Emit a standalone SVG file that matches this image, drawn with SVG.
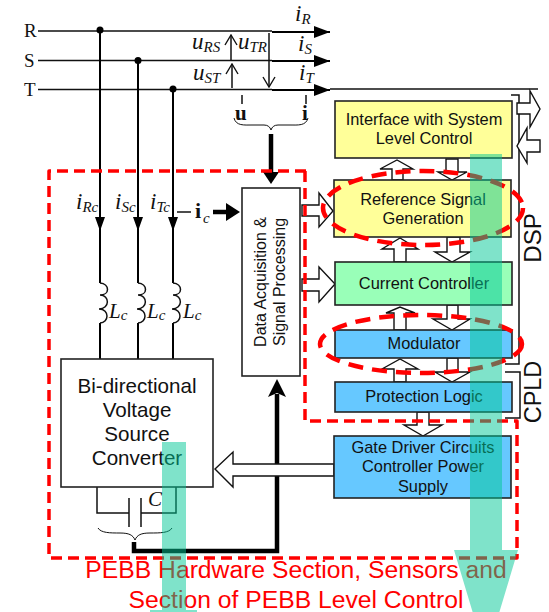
<svg xmlns="http://www.w3.org/2000/svg" width="549" height="612" viewBox="0 0 549 612">
<style>
.ln{fill:none;stroke:#111;stroke-width:1.5}
.th{fill:none;stroke:#000;stroke-width:2}
.hv{fill:none;stroke:#000;stroke-width:4.5}
.box{stroke:#222;stroke-width:1.6}
.ba{fill:#fff;stroke:#111;stroke-width:1.4;stroke-linejoin:miter}
.sans{font-family:"Liberation Sans",Arial,sans-serif;fill:#111;text-anchor:middle}
.t{font-size:16.400px}
.b{font-size:20.600px}
.m{font-family:"Liberation Serif","Times New Roman",serif;fill:#111}
.i{font-style:italic}
.red{fill:none;stroke:#f00;stroke-width:3.500;stroke-dasharray:11 6;stroke-linejoin:round}
.red2{fill:none;stroke:#f00;stroke-width:4.500;stroke-dasharray:15 9}
.ov{fill:#00c896;fill-opacity:.5}
</style>
<defs>
<marker id="tri" markerUnits="userSpaceOnUse" markerWidth="16" markerHeight="12" refX="16" refY="6" orient="auto"><path d="M0 0L16 6L0 12z" fill="#000"/></marker>
<marker id="open" markerUnits="userSpaceOnUse" markerWidth="12" markerHeight="14" refX="11" refY="7" orient="auto"><path d="M1 1L11 7L1 13" fill="none" stroke="#111" stroke-width="1.4"/></marker>
</defs>
<g id="connectors">
<path class="ln" d="M38 31H272M38 60.500H272M38 89.500H272"/>
<path class="th" d="M272 32H330" marker-end="url(#tri)"/>
<path class="th" d="M272 61H330" marker-end="url(#tri)"/>
<path class="th" d="M272 90H330" marker-end="url(#tri)"/>
<path class="ln" d="M330 89H538"/>
<circle cx="100" cy="30" r="3.500"/><circle cx="138" cy="60.500" r="3.500"/><circle cx="173" cy="89" r="3.500"/>
<path class="th" d="M100 30V283M138 60V283M173 89V283M100 323V359M138 323V359M173 323V359"/>
<path d="M95 217H105L100 231zM133 217H143L138 231zM168 217H178L173 231z"/>
<path class="ln" d="M100 283c10 1 10 12 0 12c10 0 10 14 -1 14c11 0 10 14 1 14"/>
<path class="ln" d="M138 283c10 1 10 12 0 12c10 0 10 14 -1 14c11 0 10 14 1 14"/>
<path class="ln" d="M173 283c10 1 10 12 0 12c10 0 10 14 -1 14c11 0 10 14 1 14"/>
<path class="ln" d="M231 60V35" marker-end="url(#open)"/>
<path class="ln" d="M232 88V64" marker-end="url(#open)"/>
<path class="ln" d="M269 33V87" marker-end="url(#open)"/>
<path class="ln" d="M242 95V104M306 95V104"/>
<path d="M234 118c2 8 10 7 18 7h12c4 0 6 2 7 5c1-3 3-5 7-5h12c8 0 16 1 18-7" fill="none" stroke="#111" stroke-width="1"/>
<path class="hv" d="M271 134V175"/><path d="M263 172H279L271 184z"/>
<path class="hv" d="M213 212H230"/><path d="M226 203L240 212L226 221z"/>
<path class="ln" d="M177 212H191"/>
<path class="ln" d="M97 487V513H129M129 498V527M141 498V527M141 513H176V487"/>
<path d="M98 528c3 5 12 5 22 5c9 0 13 2 15 7c2-5 6-7 15-7c10 0 19 0 22-5" fill="none" stroke="#111" stroke-width="1"/>
<path class="hv" d="M134 542V551H277V394"/><path d="M268 397L277 379L286 397L277 393z"/>
<path class="ln" d="M511 95H519V364H505M505 372H520V418H505"/>
<path class="ba" d="M517 103H530V91L540 109L530 127V114H517z"/>
<path class="ba" d="M540 140H527V128L517 146L527 163V152H540z"/>
<path class="ba" d="M302 205H319V193L333 211L319 227V216H302z"/>
<path class="ba" d="M302 279H319V267L335 284L319 302V291H302z"/>
<path class="ba" d="M392 180V169H380L397 160L413 169H403V180z"/>
<path class="ba" d="M446 159H458V172H467L452 180L438 172H446z"/>
<path class="ba" d="M394 262V249H382L400 238L418 249H406V262z"/>
<path class="ba" d="M447 237H460V252H470L452 262L435 252H447z"/>
<path class="ba" d="M394 330V313H386L400 307L415 313H406V330z"/>
<path class="ba" d="M447 305H458V319H470L452 330L433 319H447z"/>
<path class="ba" d="M394 382V369H382L400 359L418 369H406V382z"/>
<path class="ba" d="M447 358H458V372H470L452 382L435 372H447z"/>
<path class="ba" d="M417 412H429V425H442L423 436L404 425H417z"/>
<path class="ba" d="M334 464H233V452L215 469L233 487V476H334z"/>
</g>
<g id="node-converter"><rect class="box" x="61" y="359" width="152" height="128" fill="#fff"/>
<text class="sans b" x="137" y="393">Bi-directional</text><text class="sans b" x="137" y="417">Voltage</text><text class="sans b" x="137" y="441">Source</text><text class="sans b" x="137" y="465">Converter</text></g>
<g id="node-data"><rect class="box" x="242" y="188" width="58" height="188" fill="#fff"/>
<text class="sans" style="font-size:16px" transform="translate(266 282) rotate(-90)">Data Acquisition &amp;</text><text class="sans" style="font-size:16px" transform="translate(285 282) rotate(-90)">Signal Processing</text></g>
<g id="node-interface"><rect class="box" x="335" y="101" width="177" height="57" fill="#ffff99"/>
<text class="sans t" x="424" y="125">Interface with System</text><text class="sans t" x="424" y="144">Level Control</text></g>
<g id="node-reference"><rect class="box" x="334" y="180" width="177" height="57" fill="#ffff99"/>
<text class="sans t" x="423" y="205">Reference Signal</text><text class="sans t" x="423" y="224">Generation</text></g>
<g id="node-current"><rect class="box" x="335" y="262" width="177" height="43" fill="#99ffb8"/>
<text class="sans t" x="424" y="289">Current Controller</text></g>
<g id="node-modulator"><rect class="box" x="335" y="330" width="177" height="28" fill="#66c8ff"/>
<text class="sans t" x="424" y="349">Modulator</text></g>
<g id="node-protection"><rect class="box" x="335" y="382" width="177" height="30" fill="#66c8ff"/>
<text class="sans t" x="424" y="402">Protection Logic</text></g>
<g id="node-gate"><rect class="box" x="334" y="436" width="177" height="62" fill="#66c8ff"/>
<text class="sans t" x="423" y="453">Gate Driver Circuits</text><text class="sans t" x="423" y="472">Controller Power</text><text class="sans t" x="423" y="492">Supply</text></g>
<g id="labels">
<text class="m" font-size="19" x="24" y="37">R</text><text class="m" font-size="19" x="24" y="67">S</text><text class="m" font-size="19" x="24" y="96">T</text>
<text class="m i" font-size="23" x="295" y="21">i<tspan font-size="15" dy="3">R</tspan></text>
<text class="m i" font-size="23" x="298" y="51">i<tspan font-size="15" dy="3">S</tspan></text>
<text class="m i" font-size="23" x="299" y="80">i<tspan font-size="15" dy="3">T</tspan></text>
<text class="m i" font-size="23" x="192" y="49">u<tspan font-size="15" dy="3">RS</tspan></text>
<text class="m i" font-size="23" x="238" y="49">u<tspan font-size="15" dy="3">TR</tspan></text>
<text class="m i" font-size="23" x="193" y="80">u<tspan font-size="15" dy="3">ST</tspan></text>
<text class="m" font-size="21" font-weight="bold" x="235" y="120">u</text>
<text class="m" font-size="21" font-weight="bold" x="302" y="120">i</text>
<text class="m i" font-size="23" x="76" y="209">i<tspan font-size="15" dy="3">Rc</tspan></text>
<text class="m i" font-size="23" x="115" y="209">i<tspan font-size="15" dy="3">Sc</tspan></text>
<text class="m i" font-size="23" x="150" y="209">i<tspan font-size="15" dy="3">Tc</tspan></text>
<text class="m" font-size="22" font-weight="bold" x="195" y="218">i</text><text class="m i" font-size="15" x="203" y="223">c</text>
<text class="m i" font-size="21" x="109" y="318">L<tspan font-size="15" dy="2">c</tspan></text>
<text class="m i" font-size="21" x="147" y="318">L<tspan font-size="15" dy="2">c</tspan></text>
<text class="m i" font-size="21" x="183" y="318">L<tspan font-size="15" dy="2">c</tspan></text>
<text class="m i" font-size="21" x="148" y="506">C</text>
<text class="sans" transform="translate(541 238) rotate(-90)" style="font-size:24px">DSP</text>
<text class="sans" transform="translate(541 392) rotate(-90)" style="font-size:23.500px">CPLD</text>
</g>
<g id="sections">
<path class="red" d="M306 171H49V558H517V421H305V171"/>
<ellipse class="red2" cx="423" cy="208" rx="100" ry="37"/>
<ellipse class="red2" cx="421" cy="344" rx="101" ry="29"/>
<text class="sans" style="fill:#f00;font-size:24.700px" x="296" y="578">PEBB Hardware Section, Sensors and</text>
<text class="sans" style="fill:#f00;font-size:24.700px" x="296" y="608">Section of PEBB Level Control</text>
<path class="ov" d="M470 154H502V550H518L497 620H475L454 550H470z"/>
<path class="ov" d="M162 442H186V610H197V612H150V610H162z"/>
</g>
</svg>
